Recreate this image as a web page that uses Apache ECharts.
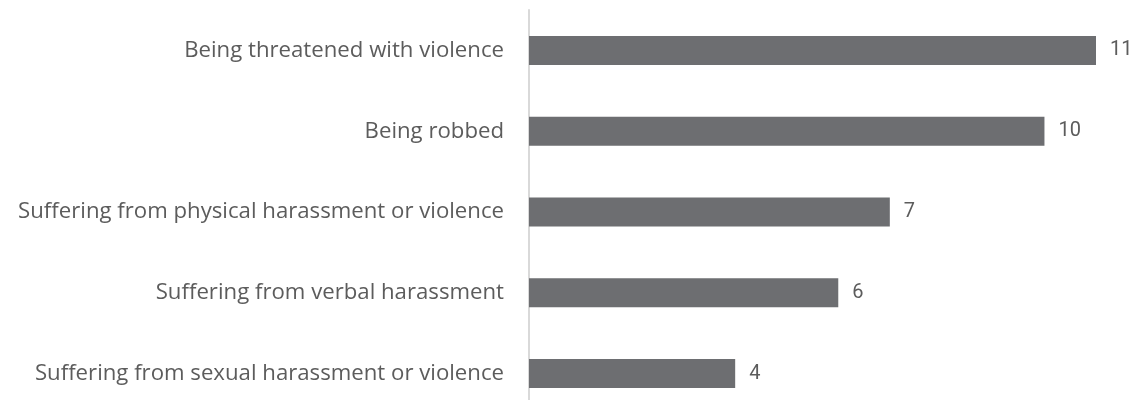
<!DOCTYPE html>
<html>
<head>
<meta charset="utf-8">
<script src="https://cdn.jsdelivr.net/npm/echarts@6/dist/echarts.min.js"></script>
<style>
  html, body { margin: 0; padding: 0; background: #ffffff; }
  #chart { width: 1129px; height: 400px; }
</style>
</head>
<body>
<div id="chart"></div>
<script>
// Categories listed bottom to top (category axis on y grows upward)
const categories = [
  'Suffering from sexual harassment or violence',
  'Suffering from verbal harassment',
  'Suffering from physical harassment or violence',
  'Being robbed',
  'Being threatened with violence'
];
const values = [4, 6, 7, 10, 11];

const chart = echarts.init(document.getElementById('chart'), null, { renderer: 'canvas' });

chart.setOption({
  backgroundColor: '#ffffff',
  animation: false,
  grid: {
    left: 529, right: 33, top: 10, height: 404,
    containLabel: false,
    outerBoundsMode: 'none'
  },
  xAxis: {
    type: 'value',
    min: 0,
    max: 11,
    show: false
  },
  yAxis: {
    type: 'category',
    data: categories,
    axisLine: { show: true, lineStyle: { color: '#d9d9d9', width: 2 } },
    axisTick: { show: false },
    axisLabel: {
      margin: 25,
      color: '#5c5c5c',
      fontFamily: 'Open Sans',
      fontSize: 22.2
    }
  },
  series: [{
    type: 'bar',
    data: values,
    barWidth: 29,
    itemStyle: { color: '#6d6e71' },
    label: {
      show: true,
      position: 'right',
      distance: 14,
      color: '#5c5c5c',
      fontFamily: 'Roboto',
      fontSize: 20
    }
  }]
});
</script>
</body>
</html>
